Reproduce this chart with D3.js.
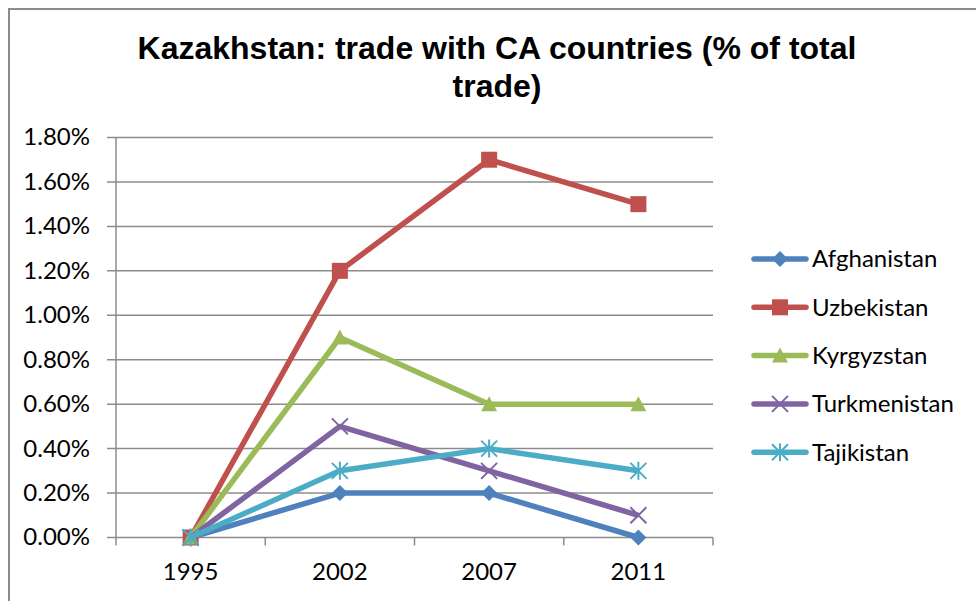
<!DOCTYPE html>
<html>
<head>
<meta charset="utf-8">
<script src="https://cdn.jsdelivr.net/npm/d3@7"></script>
<style>
  body { margin: 0; background: #fff; }
  svg { display: block; }
</style>
</head>
<body>
<svg width="976" height="601"></svg>
<script>
var years = ["1995", "2002", "2007", "2011"];
var countries = ["Afghanistan", "Uzbekistan", "Kyrgyzstan", "Turkmenistan", "Tajikistan"];
var afghanistan = [0.000, 0.002, 0.002, 0.000];
var uzbekistan = [0.000, 0.012, 0.017, 0.015];
var kyrgyzstan = [0.000, 0.009, 0.006, 0.006];
var turkmenistan = [0.000, 0.005, 0.003, 0.001];
var tajikistan = [0.000, 0.003, 0.004, 0.003];
var yTicks = [0, 0.002, 0.004, 0.006, 0.008, 0.010, 0.012, 0.014, 0.016, 0.018];

var colors = ["#4f81bd", "#c0504d", "#9bbb59", "#8064a2", "#4bacc6"];
var markers = ["diamond", "square", "triangle", "cross", "star"];
var values = [afghanistan, uzbekistan, kyrgyzstan, turkmenistan, tajikistan];

var svg = d3.select("svg"),
    width = +svg.attr("width"),
    height = +svg.attr("height");

var labelFont = "Lato, 'Open Sans', sans-serif";

// outer chart border (only top and left visible in the crop)
svg.append("path")
    .attr("d", "M9,601V9H976")
    .attr("fill", "none")
    .attr("stroke", "#8c8c8c")
    .attr("stroke-width", 2);

// title
var title = svg.append("text")
    .attr("text-anchor", "middle")
    .attr("font-family", "'Liberation Sans', Arial, sans-serif")
    .attr("font-weight", "bold")
    .attr("font-size", "32px")
    .attr("fill", "#000");
title.append("tspan").attr("x", 497).attr("y", 59).text("Kazakhstan: trade with CA countries (% of total");
title.append("tspan").attr("x", 497).attr("y", 97).text("trade)");

var plot = {left: 116, right: 713, top: 137.5, bottom: 537.5};

var x = d3.scaleBand()
    .domain(years)
    .range([plot.left, plot.right]);

var y = d3.scaleLinear()
    .domain([0, 0.018])
    .range([plot.bottom, plot.top]);

// gridlines
svg.append("g")
  .selectAll("line")
  .data(yTicks)
  .enter().append("line")
    .attr("x1", plot.left - 9)
    .attr("x2", plot.right)
    .attr("y1", function(d) { return y(d); })
    .attr("y2", function(d) { return y(d); })
    .attr("stroke", "#8c8c8c")
    .attr("stroke-width", 1.5);

// y axis line
svg.append("line")
    .attr("x1", plot.left).attr("x2", plot.left)
    .attr("y1", plot.top).attr("y2", plot.bottom)
    .attr("stroke", "#8c8c8c")
    .attr("stroke-width", 1.5);

// x ticks at category boundaries
var bounds = years.map(function(d) { return x(d); }).concat([plot.right]);
svg.append("g")
  .selectAll("line")
  .data(bounds)
  .enter().append("line")
    .attr("x1", function(d) { return d; })
    .attr("x2", function(d) { return d; })
    .attr("y1", plot.bottom)
    .attr("y2", plot.bottom + 8)
    .attr("stroke", "#8c8c8c")
    .attr("stroke-width", 1.5);

// y labels
svg.append("g")
  .selectAll("text")
  .data(yTicks)
  .enter().append("text")
    .attr("x", 90)
    .attr("y", function(d) { return y(d); })
    .attr("dy", "0.33em")
    .attr("text-anchor", "end")
    .attr("font-family", labelFont)
    .attr("font-size", "24px")
    .text(function(d) { return d3.format(".2%")(d); });

// x labels
svg.append("g")
  .selectAll("text")
  .data(years)
  .enter().append("text")
    .attr("x", function(d) { return x(d) + x.bandwidth() / 2; })
    .attr("y", 580)
    .attr("text-anchor", "middle")
    .attr("font-family", labelFont)
    .attr("font-size", "24px")
    .text(function(d) { return d; });

function drawMarker(g, type, color) {
  if (type == "diamond") {
    g.append("path").attr("d", "M0,-8L8,0L0,8L-8,0Z").attr("fill", color);
  } else if (type == "square") {
    g.append("rect").attr("x", -8).attr("y", -8).attr("width", 16).attr("height", 16).attr("fill", color);
  } else if (type == "triangle") {
    g.append("path").attr("d", "M0,-8L8,7L-8,7Z").attr("fill", color);
  } else if (type == "cross") {
    g.append("path").attr("d", "M-8,-8L8,8M-8,8L8,-8").attr("stroke", color).attr("stroke-width", 2);
  } else {
    g.append("path").attr("d", "M-8,-8L8,8M-8,8L8,-8M0,-9V9").attr("stroke", color).attr("stroke-width", 2);
  }
}

var line = d3.line()
    .x(function(d, i) { return x(years[i]) + x.bandwidth() / 2; })
    .y(function(d) { return y(d); });

values.forEach(function(vals, k) {
  var g = svg.append("g").attr("class", "series");
  g.append("path")
      .datum(vals)
      .attr("d", line)
      .attr("fill", "none")
      .attr("stroke", colors[k])
      .attr("stroke-width", 5.5)
      .attr("stroke-linejoin", "round");
  vals.forEach(function(v, i) {
    var m = g.append("g")
        .attr("transform", "translate(" + (x(years[i]) + x.bandwidth() / 2) + "," + y(v) + ")");
    drawMarker(m, markers[k], colors[k]);
  });
});

// legend
var legend = svg.append("g");
countries.forEach(function(c, k) {
  var ly = 259 + k * 48.3;
  legend.append("line")
      .attr("x1", 754).attr("x2", 806)
      .attr("y1", ly).attr("y2", ly)
      .attr("stroke", colors[k])
      .attr("stroke-width", 5.5)
      .attr("stroke-linecap", "round");
  var m = legend.append("g").attr("transform", "translate(780," + ly + ")");
  drawMarker(m, markers[k], colors[k]);
  legend.append("text")
      .attr("x", 812)
      .attr("y", ly)
      .attr("dy", "0.35em")
      .attr("font-family", labelFont)
      .attr("font-size", "24px")
      .text(c);
});
</script>
</body>
</html>
